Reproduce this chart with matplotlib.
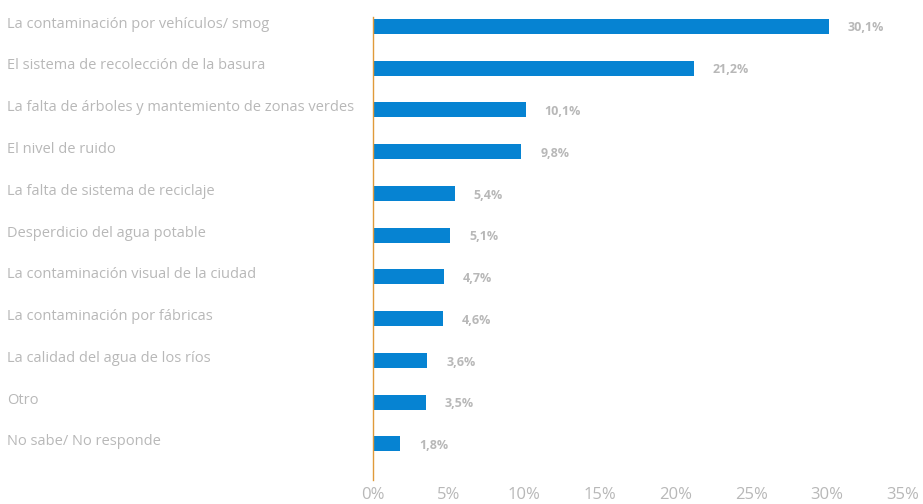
import matplotlib.pyplot as plt
from matplotlib.transforms import blended_transform_factory, offset_copy

categories = [
    'La contaminación por vehículos/ smog',
    'El sistema de recolección de la basura',
    'La falta de árboles y mantemiento de zonas verdes',
    'El nivel de ruido',
    'La falta de sistema de reciclaje',
    'Desperdicio del agua potable',
    'La contaminación visual de la ciudad',
    'La contaminación por fábricas',
    'La calidad del agua de los ríos',
    'Otro',
    'No sabe/ No responde',
]
values = [30.1, 21.2, 10.1, 9.8, 5.4, 5.1, 4.7, 4.6, 3.6, 3.5, 1.8]
value_labels = ['30,1%', '21,2%', '10,1%', '9,8%', '5,4%', '5,1%', '4,7%', '4,6%', '3,6%', '3,5%', '1,8%']
ticks = [0, 5, 10, 15, 20, 25, 30, 35]

plt.rcParams['font.family'] = ['Open Sans', 'DejaVu Sans']
grey = '#b8b8b8'
blue = '#0683d2'

fig = plt.figure(figsize=(9.23, 5.04), dpi=100)
ax = fig.add_axes([0.404, 0.048, 0.574, 0.918])

y = list(range(len(categories)))
ax.barh(y, values, height=0.36, color=blue)
ax.set_ylim(10.86, -0.22)
ax.set_xlim(0, 35)
ax.set_xticks(ticks)
ax.set_xticklabels([f'{t}%' for t in ticks], fontsize=12, color=grey)
ax.tick_params(axis='x', length=0, pad=5)
ax.set_yticks([])
for s in ['top', 'right', 'bottom']:
    ax.spines[s].set_visible(False)
ax.spines['left'].set_color('#e09a3a')
ax.spines['left'].set_linewidth(1)

trans = blended_transform_factory(fig.transFigure, ax.transData)
for yi, cat in zip(y, categories):
    ax.text(0.008, yi - 0.05, cat, transform=trans, ha='left', va='center',
            fontsize=10.5, color=grey)

val_trans = offset_copy(ax.transData, fig=fig, x=19, y=0, units='dots')
for yi, v, lab in zip(y, values, value_labels):
    ax.text(v, yi + 0.04, lab, transform=val_trans, ha='left', va='center',
            fontsize=9, fontweight='bold', color=grey)

fig.savefig('out.png', dpi=100)
